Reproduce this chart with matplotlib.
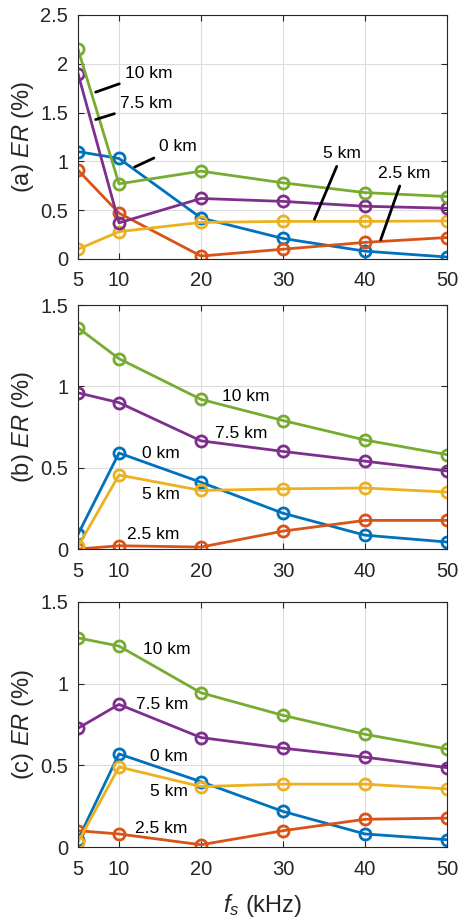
import matplotlib
matplotlib.use("Agg")
import matplotlib.pyplot as plt

plt.rcParams['font.family'] = ['Liberation Sans', 'DejaVu Sans']
plt.rcParams['mathtext.fontset'] = 'custom'
plt.rcParams['mathtext.rm'] = 'Liberation Sans'
plt.rcParams['mathtext.it'] = 'Liberation Sans:italic'

fs = [5, 10, 20, 30, 40, 50]
labels = ["0 km", "2.5 km", "5 km", "7.5 km", "10 km"]
colors = ["#0072BD", "#D95319", "#EDB120", "#7E2F8E", "#77AC30"]

# panel (a)
er_a_0 = [1.10, 1.03, 0.42, 0.21, 0.08, 0.02]
er_a_25 = [0.91, 0.47, 0.03, 0.10, 0.17, 0.22]
er_a_5 = [0.10, 0.28, 0.375, 0.385, 0.385, 0.39]
er_a_75 = [1.90, 0.37, 0.62, 0.59, 0.54, 0.52]
er_a_10 = [2.15, 0.77, 0.90, 0.78, 0.68, 0.64]

# panel (b)
er_b_0 = [0.09, 0.59, 0.41, 0.22, 0.085, 0.043]
er_b_25 = [0.0, 0.02, 0.012, 0.11, 0.176, 0.176]
er_b_5 = [0.016, 0.455, 0.36, 0.37, 0.375, 0.35]
er_b_75 = [0.96, 0.90, 0.665, 0.60, 0.54, 0.48]
er_b_10 = [1.36, 1.17, 0.92, 0.79, 0.67, 0.58]

# panel (c)
er_c_0 = [0.045, 0.57, 0.40, 0.218, 0.08, 0.045]
er_c_25 = [0.10, 0.08, 0.014, 0.10, 0.17, 0.177]
er_c_5 = [0.03, 0.49, 0.37, 0.385, 0.385, 0.356]
er_c_75 = [0.727, 0.873, 0.67, 0.605, 0.55, 0.486]
er_c_10 = [1.28, 1.23, 0.944, 0.806, 0.69, 0.60]

panels = [
    ("(a)", [er_a_0, er_a_25, er_a_5, er_a_75, er_a_10], 2.5),
    ("(b)", [er_b_0, er_b_25, er_b_5, er_b_75, er_b_10], 1.5),
    ("(c)", [er_c_0, er_c_25, er_c_5, er_c_75, er_c_10], 1.5),
]

fig = plt.figure(figsize=(4.58, 9.19), dpi=100)
boxes = [
    [0.1703, 0.7182, 0.8057, 0.2655],
    [0.1703, 0.4026, 0.8057, 0.2655],
    [0.1703, 0.0783, 0.8057, 0.2667],
]

axes = []
for box, (tag, series, ymax) in zip(boxes, panels):
    ax = fig.add_axes(box)
    for vals, c, lab in zip(series, colors, labels):
        ax.plot(fs, vals, color=c, lw=2, marker='o', ms=8, mfc='none',
                mew=2, label=lab)
    ax.set_xlim(5, 50)
    ax.set_ylim(0, ymax)
    ax.set_xticks(fs)
    yt = [i * 0.5 for i in range(int(ymax / 0.5) + 1)]
    ax.set_yticks(yt)
    ax.set_yticklabels(["0" if v == 0 else ("%g" % v) for v in yt])
    ax.grid(True, color="#dcdcdc", lw=0.8)
    ax.set_axisbelow(True)
    ax.tick_params(direction='in', labelsize=14.5, colors="#262626",
                   top=True, right=True, length=4)
    ax.tick_params(axis='x', pad=9)
    ax.tick_params(axis='y', pad=7)
    for s in ax.spines.values():
        s.set_color("#262626")
    ax.set_ylabel(tag + r" $\it{ER}$ (%)", fontsize=17, color="#262626")
    ax.yaxis.set_label_coords(-0.115, 0.5)
    axes.append(ax)

axes[2].set_xlabel(r"$f_s$ (kHz)", fontsize=17, color="#262626")
axes[2].xaxis.set_label_coords(0.5, -0.185)

# annotations panel (a)
fsz = 12.5
arrow = dict(arrowstyle='-', color='black', lw=2)
ax = axes[0]
ax.annotate("10 km", xy=(6.83, 1.70), xytext=(10.7, 1.90), fontsize=fsz,
            va='center', arrowprops=arrow)
ax.annotate("7.5 km", xy=(6.83, 1.42), xytext=(10.1, 1.59), fontsize=fsz,
            va='center', arrowprops=arrow)
ax.annotate("0 km", xy=(11.6, 0.93), xytext=(14.9, 1.15), fontsize=fsz,
            va='center', arrowprops=arrow)
ax.annotate("5 km", xy=(33.7, 0.38), xytext=(34.9, 1.08), fontsize=fsz,
            va='center', arrowprops=arrow)
ax.annotate("2.5 km", xy=(41.8, 0.17), xytext=(41.6, 0.88), fontsize=fsz,
            va='center', arrowprops=arrow)

# labels panel (b)
ax = axes[1]
ax.text(22.6, 0.937, "10 km", fontsize=fsz, va='center')
ax.text(21.7, 0.712, "7.5 km", fontsize=fsz, va='center')
ax.text(12.8, 0.59, "0 km", fontsize=fsz, va='center')
ax.text(12.8, 0.334, "5 km", fontsize=fsz, va='center')
ax.text(11.0, 0.088, "2.5 km", fontsize=fsz, va='center')

# labels panel (c)
ax = axes[2]
ax.text(12.9, 1.21, "10 km", fontsize=fsz, va='center')
ax.text(12.1, 0.875, "7.5 km", fontsize=fsz, va='center')
ax.text(13.8, 0.554, "0 km", fontsize=fsz, va='center')
ax.text(13.8, 0.34, "5 km", fontsize=fsz, va='center')
ax.text(11.95, 0.116, "2.5 km", fontsize=fsz, va='center')

fig.savefig("out.png", dpi=100)
